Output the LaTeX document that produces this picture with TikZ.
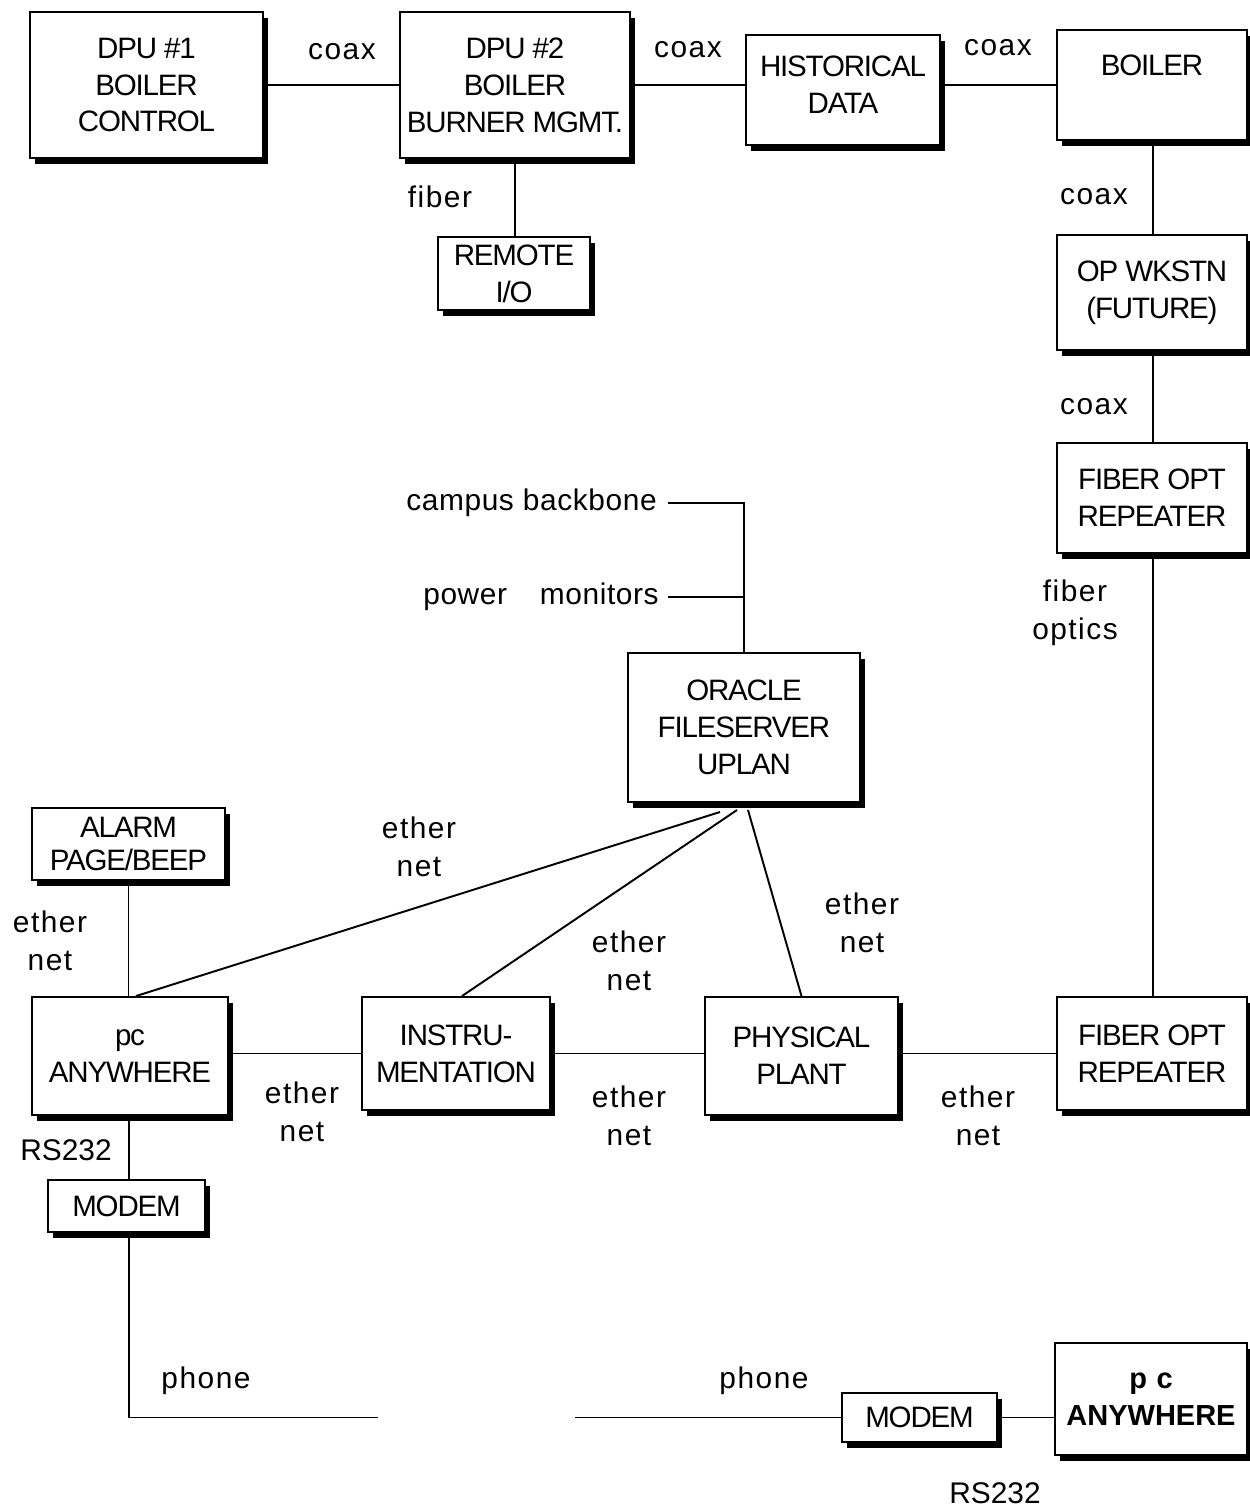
\documentclass[tikz,border=0pt]{standalone}
\usepackage{fontspec}
\setmainfont{Liberation Sans}
\usetikzlibrary{shadows,calc}
\newcommand\boxfont{\fontsize{16.8}{21}\selectfont\addfontfeature{LetterSpace=-4}}
\newcommand\boldboxfont{\fontsize{16.5}{21}\selectfont\bfseries}
\newcommand\lblfont{\fontsize{17}{21.5}\selectfont\addfontfeature{LetterSpace=5}}
\begin{document}
\begin{tikzpicture}[x=0.02cm,y=-0.02cm,
  box/.style={draw, line width=1.1pt, fill=white, align=center, inner sep=0pt, font=\boxfont,
    drop shadow={shadow xshift=0.1cm, shadow yshift=-0.11cm, fill=black, opacity=1}},
  sz/.style 2 args={minimum width=#1*0.02cm, minimum height=#2*0.02cm},
  lbl/.style={font=\lblfont, align=center, inner sep=0pt},
  wire/.style={line width=1.1pt}]
\useasboundingbox[fill=white] (0,0) rectangle (1249,1509);

% boxes
\node[box, sz={233}{146}] (dpu1) at (146.5,85) {DPU \#1\\BOILER\\CONTROL};
\node[box, sz={230}{146}] (dpu2) at (515,85) {DPU \#2\\BOILER\\BURNER MGMT.};
\node[box, sz={194}{110}] (hist) at (843,90) {HISTORICAL\\DATA\\[-21pt]\strut};
\node[box, sz={190}{110}] (boiler) at (1152,85) {BOILER\\[-5pt]\strut};
\node[box, sz={152}{73}] (remote) at (514,273.5) {REMOTE\\I/O};
\node[box, sz={190}{115}] (opw) at (1152,292.5) {OP WKSTN\\(FUTURE)};
\node[box, sz={190}{110}] (for1) at (1152,498) {FIBER OPT\\REPEATER};
\node[box, sz={232}{149}] (oracle) at (744,727.5) {ORACLE\\FILESERVER\\UPLAN};
\node[box, sz={193}{72}, font=\boxfont\linespread{0.92}\selectfont] (alarm) at (128.5,844) {ALARM\\PAGE/BEEP};
\node[box, sz={196}{118}] (pc) at (130,1056) {pc\\ANYWHERE};
\node[box, sz={188}{113}] (instru) at (456,1053.5) {INSTRU-\\MENTATION};
\node[box, sz={193}{118}] (phys) at (801.5,1056) {PHYSICAL\\PLANT};
\node[box, sz={190}{113}] (for2) at (1152,1053.5) {FIBER OPT\\REPEATER};
\node[box, sz={157}{52}] (modemL) at (126.5,1206) {MODEM};
\node[box, sz={155}{49}] (modemR) at (919.5,1417.5) {MODEM};
\node[box, sz={192}{112}, font=\boldboxfont] (pcR) at (1151,1399) {p\,\,c\\ANYWHERE};

% labels
\node[lbl] (l1) at (342,52) {coax};
\node[lbl] (l2) at (688,50) {coax};
\node[lbl] (l3) at (998,48) {coax};
\node[lbl] (l4) at (440,197) {fiber};
\node[lbl] (l5) at (1094,197) {coax};
\node[lbl] (l6) at (1094,407) {coax};
\node[lbl] (l7) at (1075,613) {fiber\\optics};
\node[lbl, anchor=east, font=\fontsize{17}{21.5}\selectfont\addfontfeature{LetterSpace=2}] (cb) at (657,503) {campus\hspace{0.3em}backbone};
\node[lbl, anchor=east, font=\fontsize{17}{21.5}\selectfont\addfontfeature{LetterSpace=2}] (pm) at (659,597) {power\hspace{1.1em}monitors};
\node[lbl] (e1) at (419,847) {ether\\net};
\node[lbl] (e2) at (50,941) {ether\\net};
\node[lbl] (e3) at (629,961) {ether\\net};
\node[lbl] (e4) at (862,923) {ether\\net};
\node[lbl] (e5) at (302,1112) {ether\\net};
\node[lbl] (e6) at (629,1116) {ether\\net};
\node[lbl] (e7) at (978,1116) {ether\\net};
\node[lbl, font=\fontsize{17}{21.5}\selectfont] (r1) at (66,1150) {RS232};
\node[lbl] (p1) at (206,1381) {phone};
\node[lbl] (p2) at (764,1381) {phone};
\node[lbl, font=\fontsize{17}{21.5}\selectfont] (r2) at (995,1493) {RS232};

% free ends
\coordinate (o1) at (720,812);
\coordinate (o2) at (737,810);
\coordinate (o3) at (748,810);
\coordinate (ph1) at (378,1417.5);
\coordinate (ph2) at (575,1417.5);

% connectors
\draw[wire] (dpu1.east) -- (dpu2.west);
\draw[wire] (dpu2.east) -- (dpu2.east -| hist.west);
\draw[wire] (dpu2.east -| hist.east) -- (dpu2.east -| boiler.west);
\draw[wire] (dpu2.south) -- (dpu2.south |- remote.north);
\draw[wire] ($(boiler.south)+(1,5)$) -- ($(opw.north)+(1,0)$);
\draw[wire] ($(opw.south)+(1,5)$) -- ($(for1.north)+(1,0)$);
\draw[wire] ($(for1.south)+(1,5)$) -- ($(for2.north)+(1,0)$);
\draw[wire] ($(cb.east)+(11,0)$) -- (cb.east -| oracle.north) -- (oracle.north);
\draw[wire] ($(pm.east)+(9,0)$) -- (pm.east -| oracle.north);
\draw[wire] (o1) -- ($(pc.north)+(6,0)$);
\draw[wire] (o2) -- ($(instru.north)+(6,0)$);
\draw[wire] (o3) -- (phys.north);
\draw[wire] (alarm.south) -- (alarm.south |- pc.north);
\draw[wire] (instru.west -| pc.east) -- (instru.west);
\draw[wire] (instru.east) -- (instru.east -| phys.west);
\draw[wire] (for2.west -| phys.east) -- (for2.west);
\draw[wire] ($(pc.south)+(-1,5)$) -- ($(modemL.north)+(2.5,0)$);
\draw[wire] ($(modemL.south)+(2.5,5)$) |- (ph1);
\draw[wire] (ph2) -- (modemR.west);
\draw[wire] (modemR.east) -- (modemR.east -| pcR.west);
\end{tikzpicture}
\end{document}
